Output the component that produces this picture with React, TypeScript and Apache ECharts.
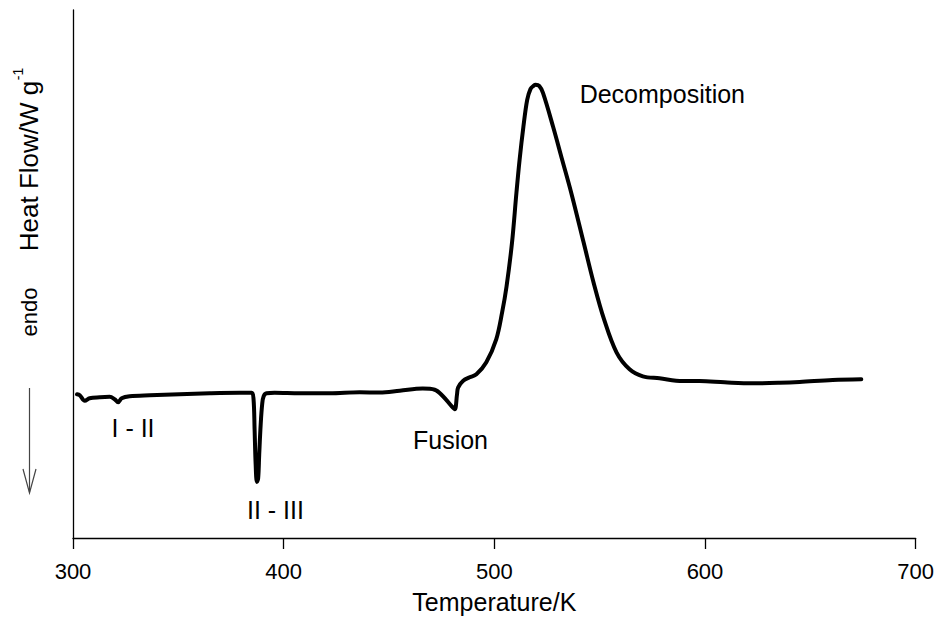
import React, { useEffect, useRef } from "react";
import * as echarts from "echarts";

const FONT = "'Liberation Sans', Arial, Helvetica, sans-serif";

// DSC trace: temperature (K) and heat flow (arbitrary units, endo down)
const temperatureK = [
  301.9, 303.2, 305.6, 307.9, 312.7, 317.4, 319.8, 321.4, 323.1, 326.9,
  336.4, 350.6, 364.9, 379.1, 384.8, 385.7, 386.2, 386.7, 387.3, 387.9,
  388.4, 389.1, 389.8, 390.5, 391.9, 395.7, 407.6, 421.8, 436.1, 445.6,
  455.1, 466.0, 471.7, 475.5, 479.6, 481.2, 482.3, 482.8, 485.1, 488.3,
  491.5, 496.2, 500.9, 503.7, 505.8, 508.4, 510.5, 512.0, 513.8, 515.6,
  517.2, 518.6, 519.6, 521.3, 523.1, 527.9, 532.2, 536.5, 542.4, 547.1,
  552.1, 558.0, 564.2, 570.5, 578.4, 589.4, 597.4, 609.3, 622.6, 635.4,
  644.9, 660.6, 674.2,
];
const heatFlow = [
  144, 143, 137.5, 140, 141, 141.5, 139, 136, 140, 142,
  143, 144, 145, 145.5, 145.5, 139, 109, 74, 56, 60,
  84, 114, 134, 142, 145, 145.5, 145, 145, 146, 145.7,
  147.5, 149.7, 148.5, 142.3, 132.3, 129, 144, 150.7, 157.3, 161,
  164, 176, 199, 226, 252, 296, 346, 379, 412, 439,
  450, 453, 454, 453, 446, 412, 379, 346, 296, 256,
  219, 186, 169, 162, 160, 157.3, 157.3, 156, 155, 155.5,
  156.3, 158.3, 159,
];

// Annotations
const annotationText = ["I - II", "II - III", "Fusion", "Decomposition"];
const annotationK = [328.5, 396.1, 479.2, 540.5];
const annotationY = [110, 28, 98, 445];
const annotationPos = ["inside", "inside", "inside", "right"];

// Axis
const xMin = 300;
const xMax = 700;
const xStep = 100;
const yMin = 0;
const yMax = 529;

export default function App() {
  const ref = useRef<HTMLDivElement>(null);

  useEffect(() => {
    if (!ref.current) return;
    const chart = echarts.init(ref.current, null, { renderer: "svg" });
    const data = temperatureK.map((t, i) => [t, heatFlow[i]]);
    chart.setOption({
      animation: false,
      backgroundColor: "#ffffff",
      grid: { left: 73, right: 21, top: 10, bottom: 80, containLabel: false },
      xAxis: {
        type: "value",
        min: xMin,
        max: xMax,
        interval: xStep,
        name: "Temperature/K",
        nameLocation: "middle",
        nameGap: 51,
        nameTextStyle: { fontSize: 25, color: "#000", fontFamily: FONT },
        axisLine: { show: true, onZero: false, lineStyle: { color: "#000", width: 1.3 } },
        axisTick: { show: true, inside: false, length: 11, lineStyle: { color: "#000", width: 1.3 } },
        axisLabel: { fontSize: 22, color: "#000", margin: 22, fontFamily: FONT },
        splitLine: { show: false },
      },
      yAxis: {
        type: "value",
        min: yMin,
        max: yMax,
        axisLine: { show: true, onZero: false, lineStyle: { color: "#000", width: 1.3 } },
        axisTick: { show: false },
        axisLabel: { show: false },
        splitLine: { show: false },
      },
      series: [
        {
          type: "line",
          data,
          showSymbol: false,
          symbol: "none",
          smooth: 0.35,
          lineStyle: { color: "#000", width: 4, join: "round", cap: "round" },
          markPoint: {
            symbol: "circle",
            symbolSize: 0,
            silent: true,
            itemStyle: { color: "transparent" },
            label: { show: true, color: "#000", fontSize: 25, fontFamily: FONT, distance: 0 },
            data: annotationText.map((t, i) => ({
              coord: [annotationK[i], annotationY[i]],
              label: { formatter: t, position: annotationPos[i] },
            })),
          },
        },
      ],
      graphic: [
        {
          type: "text",
          x: 29,
          y: 166,
          rotation: Math.PI / 2,
          style: {
            text: "Heat Flow/W g",
            font: `26px ${FONT}`,
            fill: "#000",
            align: "center",
            verticalAlign: "middle",
          },
        },
        {
          type: "text",
          x: 18,
          y: 74,
          rotation: Math.PI / 2,
          style: {
            text: "-1",
            font: `14px ${FONT}`,
            fill: "#000",
            align: "center",
            verticalAlign: "middle",
          },
        },
        {
          type: "text",
          x: 29,
          y: 312,
          rotation: Math.PI / 2,
          style: {
            text: "endo",
            font: `22px ${FONT}`,
            fill: "#000",
            align: "center",
            verticalAlign: "middle",
          },
        },
        {
          type: "line",
          shape: { x1: 29.5, y1: 388, x2: 29.5, y2: 492 },
          style: { stroke: "#444", lineWidth: 1.2 },
        },
        {
          type: "polyline",
          shape: { points: [[23, 469], [29.5, 493], [36, 469]] },
          style: { stroke: "#444", lineWidth: 1.2, fill: "none" },
        },
      ],
    });
    return () => chart.dispose();
  }, []);

  return (
    <div
      ref={ref}
      style={{ position: "absolute", left: 0, top: 0, width: 937, height: 619, background: "#fff" }}
    />
  );
}
